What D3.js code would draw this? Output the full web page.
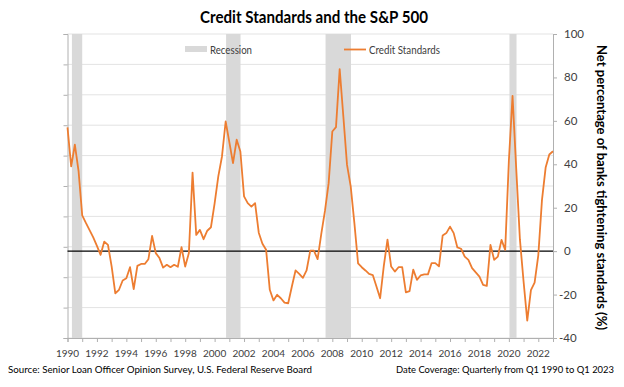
<!DOCTYPE html>
<html>
<head>
<meta charset="utf-8">
<script src="https://cdnjs.cloudflare.com/ajax/libs/d3/7.8.5/d3.min.js"></script>
<style>
  body { margin: 0; background: #fff; }
  text { font-family: Lato, "Open Sans", sans-serif; }
</style>
</head>
<body>
<svg id="chart"></svg>
<script>
// quarterly net % of banks tightening, Q1 1990 .. Q1 2023
var creditStandards = [
  57, 39, 49, 37, 16.5, 13, 9.7, 6.3, 2.4, -1.7, 4.4, 2.9,
  -7, -19.4, -17.8, -13.5, -12.5, -7.4, -17.5, -6.8, -5.9, -5.9, -3.7, 7,
  -0.9, -3.2, -7.6, -6.3, -7.4, -6.3, -7.2, 1.8, -7.1, -0.9, 36.2, 7.5,
  9.8, 5.5, 9.4, 11, 22, 34.4, 43.6, 59.7, 50.2, 40.5, 51.3, 45.9,
  25.2, 22.1, 20.5, 22.1, 8.5, 3.4, 0.6, -17.8, -22.7, -20.1, -21.7, -23.7,
  -24, -16.3, -8.9, -10.5, -12.3, -8.9, 0.2, 0.2, -3.7, 8, 18.5, 31.3,
  55.1, 57.1, 83.8, 62, 39.7, 29.8, 12.9, -5.6, -7.4, -8.9, -10.5, -11,
  -16.3, -21.7, -6.8, 5.3, -7.1, -9.4, -7.4, -7.4, -19, -18.4, -8.5, -13.2,
  -11.2, -10.7, -10.7, -5.5, -5.5, -7, 7.2, 8.3, 11.3, 8.3, 1.7, 1.1,
  -2.5, -4, -7.8, -9.8, -11.7, -15.5, -16, 2.9, -4, -2.5, 5.2, 0.6,
  41.5, 71.5, 38, 5.5, -14, -32, -18, -14.5, -2, 23.5, 38.5, 44.5,
  46
];
var startYear = 1990;

// recession shading [start, end] in fractional years
var recessions = [[1990.3, 1991.0], [2000.78, 2001.76], [2007.54, 2009.27], [2020.04, 2020.52]];

var yearTicks = d3.range(1990, 2024);
var yearLabels = d3.range(1990, 2023, 2);
var rightTicks = [-40, -20, 0, 20, 40, 60, 80, 100];
var leftTicks = d3.range(0, 5001, 500); // hidden S&P 500 axis, only gridlines

var width = 624, height = 387;
var plotLeft = 67.5, plotRight = 553, plotTop = 34, plotBottom = 338;

var svg = d3.select("#chart").attr("width", width).attr("height", height);

var x = d3.scaleLinear().domain([1990, 2023]).range([plotLeft, plotRight]);
var y = d3.scaleLinear().domain([-40, 100]).range([plotBottom, plotTop]);
var yLeft = d3.scaleLinear().domain([0, 5000]).range([plotBottom, plotTop]);

var data = creditStandards.map(function(v, i) { return {t: startYear + i / 4, v: v}; });

// gridlines (from the primary axis)
svg.append("g").selectAll("line")
    .data(leftTicks)
  .enter().append("line")
    .attr("x1", plotLeft).attr("x2", plotRight)
    .attr("y1", function(d) { return yLeft(d); })
    .attr("y2", function(d) { return yLeft(d); })
    .attr("stroke", "#e3e3e3").attr("stroke-width", 1);

// recession bars
svg.append("g").selectAll("rect")
    .data(recessions)
  .enter().append("rect")
    .attr("x", function(d) { return x(d[0]); })
    .attr("width", function(d) { return x(d[1]) - x(d[0]); })
    .attr("y", plotTop)
    .attr("height", plotBottom - plotTop)
    .attr("fill", "#d9d9d9");

// left axis, no labels
var leftAxis = svg.append("g")
    .attr("transform", "translate(" + plotLeft + ",0)")
    .call(d3.axisLeft(yLeft).tickValues(leftTicks).tickSize(4).tickFormat(""));

// bottom axis
var bottomAxis = svg.append("g")
    .attr("transform", "translate(0," + plotBottom + ")")
    .call(d3.axisBottom(x).tickValues(yearTicks).tickSize(4).tickFormat(""));

svg.append("g").selectAll("text")
    .data(yearLabels)
  .enter().append("text")
    .attr("x", function(d) { return x(d); })
    .attr("y", 357)
    .attr("text-anchor", "middle")
    .attr("font-size", "10px")
    .attr("fill", "#404040")
    .text(function(d) { return d; });

// right axis
var rightAxis = svg.append("g")
    .attr("transform", "translate(" + plotRight + ",0)")
    .call(d3.axisRight(y).tickValues(rightTicks).tickSize(4).tickFormat(""));

svg.append("g").selectAll("text")
    .data(rightTicks)
  .enter().append("text")
    .attr("x", function(d) { return d < 0 ? 559 : 564; })
    .attr("y", function(d) { return y(d); })
    .attr("dy", "0.35em")
    .attr("font-size", "11.5px")
    .attr("fill", "#404040")
    .text(function(d) { return d; });

[leftAxis, bottomAxis, rightAxis].forEach(function(a) {
  a.selectAll("path, line").attr("stroke", "#b0b0b0");
});

// zero line
svg.append("line")
    .attr("x1", plotLeft).attr("x2", plotRight)
    .attr("y1", y(0)).attr("y2", y(0))
    .attr("stroke", "#000").attr("stroke-width", 1.3);

// credit standards line
var line = d3.line()
    .x(function(d) { return x(d.t); })
    .y(function(d) { return y(d.v); });

svg.append("path")
    .datum(data)
    .attr("d", line)
    .attr("fill", "none")
    .attr("stroke", "#ed7d31")
    .attr("stroke-width", 1.8)
    .attr("stroke-linejoin", "round");

// legend
svg.append("rect")
    .attr("x", 185).attr("y", 46).attr("width", 22).attr("height", 6)
    .attr("fill", "#d9d9d9");
svg.append("text")
    .attr("x", 210).attr("y", 53.5)
    .attr("font-size", "11px").attr("fill", "#404040")
    .attr("textLength", 42).attr("lengthAdjust", "spacingAndGlyphs")
    .text("Recession");
svg.append("line")
    .attr("x1", 344).attr("x2", 366).attr("y1", 49.5).attr("y2", 49.5)
    .attr("stroke", "#ed7d31").attr("stroke-width", 1.8);
svg.append("text")
    .attr("x", 369).attr("y", 53.5)
    .attr("font-size", "11px").attr("fill", "#404040")
    .attr("textLength", 71).attr("lengthAdjust", "spacingAndGlyphs")
    .text("Credit Standards");

// title
svg.append("text")
    .attr("x", 200).attr("y", 23)
    .attr("font-size", "17px").attr("font-weight", "bold").attr("fill", "#000")
    .attr("textLength", 228).attr("lengthAdjust", "spacingAndGlyphs")
    .text("Credit Standards and the S&P 500");

// right axis title
svg.append("text")
    .attr("transform", "translate(597,45) rotate(90)")
    .attr("font-size", "13px").attr("font-weight", "bold").attr("fill", "#000")
    .attr("textLength", 285).attr("lengthAdjust", "spacingAndGlyphs")
    .text("Net percentage of banks tightening standards (%)");

// footer
svg.append("text")
    .attr("x", 8).attr("y", 373)
    .attr("font-size", "10px").attr("fill", "#000")
    .attr("textLength", 304).attr("lengthAdjust", "spacingAndGlyphs")
    .text("Source: Senior Loan Officer Opinion Survey, U.S. Federal Reserve Board");
svg.append("text")
    .attr("x", 396).attr("y", 373)
    .attr("font-size", "9.5px").attr("fill", "#000")
    .attr("textLength", 218).attr("lengthAdjust", "spacingAndGlyphs")
    .text("Date Coverage: Quarterly from Q1 1990 to Q1 2023");
</script>
</body>
</html>
